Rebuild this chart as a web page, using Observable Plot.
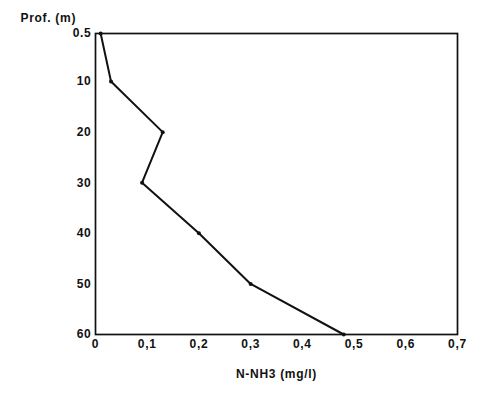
<!DOCTYPE html>
<html>
<head>
<meta charset="utf-8">
<script src="https://cdn.jsdelivr.net/npm/d3@7"></script>
<script src="https://cdn.jsdelivr.net/npm/@observablehq/plot@0.6"></script>
<style>
  html, body { margin: 0; padding: 0; background: #fff; }
  svg { display: block; }
  svg text { letter-spacing: 0.7px; }
</style>
</head>
<body>
<div id="chart"></div>
<script>
// Ammonium nitrogen profile by depth
const depths = [0.5, 10, 20, 30, 40, 50, 60];          // Prof. (m)
const nh3 = [0.01, 0.03, 0.13, 0.09, 0.2, 0.3, 0.48];   // N-NH3 (mg/l)
const xTicks = [0, 0.1, 0.2, 0.3, 0.4, 0.5, 0.6, 0.7];
const yTicks = [0.5, 10, 20, 30, 40, 50, 60];

const rows = depths.map((d, i) => ({depth: d, value: nh3[i]}));
const font = "'Liberation Sans', Arial, sans-serif";

const chart = Plot.plot({
  width: 477,
  height: 393,
  marginLeft: 95,
  marginRight: 20,
  marginTop: 33,
  marginBottom: 59,
  style: {fontFamily: font, fontSize: "12px", fontWeight: "bold", color: "#111", background: "#fff"},
  x: {domain: [0, 0.7]},
  y: {domain: [0.5, 60], reverse: true},
  marks: [
    Plot.frame({stroke: "#111", strokeWidth: 1.7}),
    Plot.axisX({
      ticks: xTicks, tickSize: 0, tickPadding: 5, fontSize: 12,
      tickFormat: d => String(d).replace(".", ","),
      label: "N-NH3 (mg/l)", labelAnchor: "center", labelArrow: "none", labelOffset: 43
    }),
    Plot.axisY({
      ticks: yTicks, tickSize: 0, tickPadding: 4, fontSize: 12,
      tickFormat: d => String(d), label: null
    }),
    Plot.text(["Prof. (m)"], {frameAnchor: "top-left", dx: -75, dy: -20, textAnchor: "start", fontSize: 12}),
    Plot.line(rows, {x: "value", y: "depth", stroke: "#111", strokeWidth: 2}),
    Plot.dot(rows, {x: "value", y: "depth", fill: "#111", r: 2})
  ]
});
document.getElementById("chart").append(chart);
</script>
</body>
</html>
